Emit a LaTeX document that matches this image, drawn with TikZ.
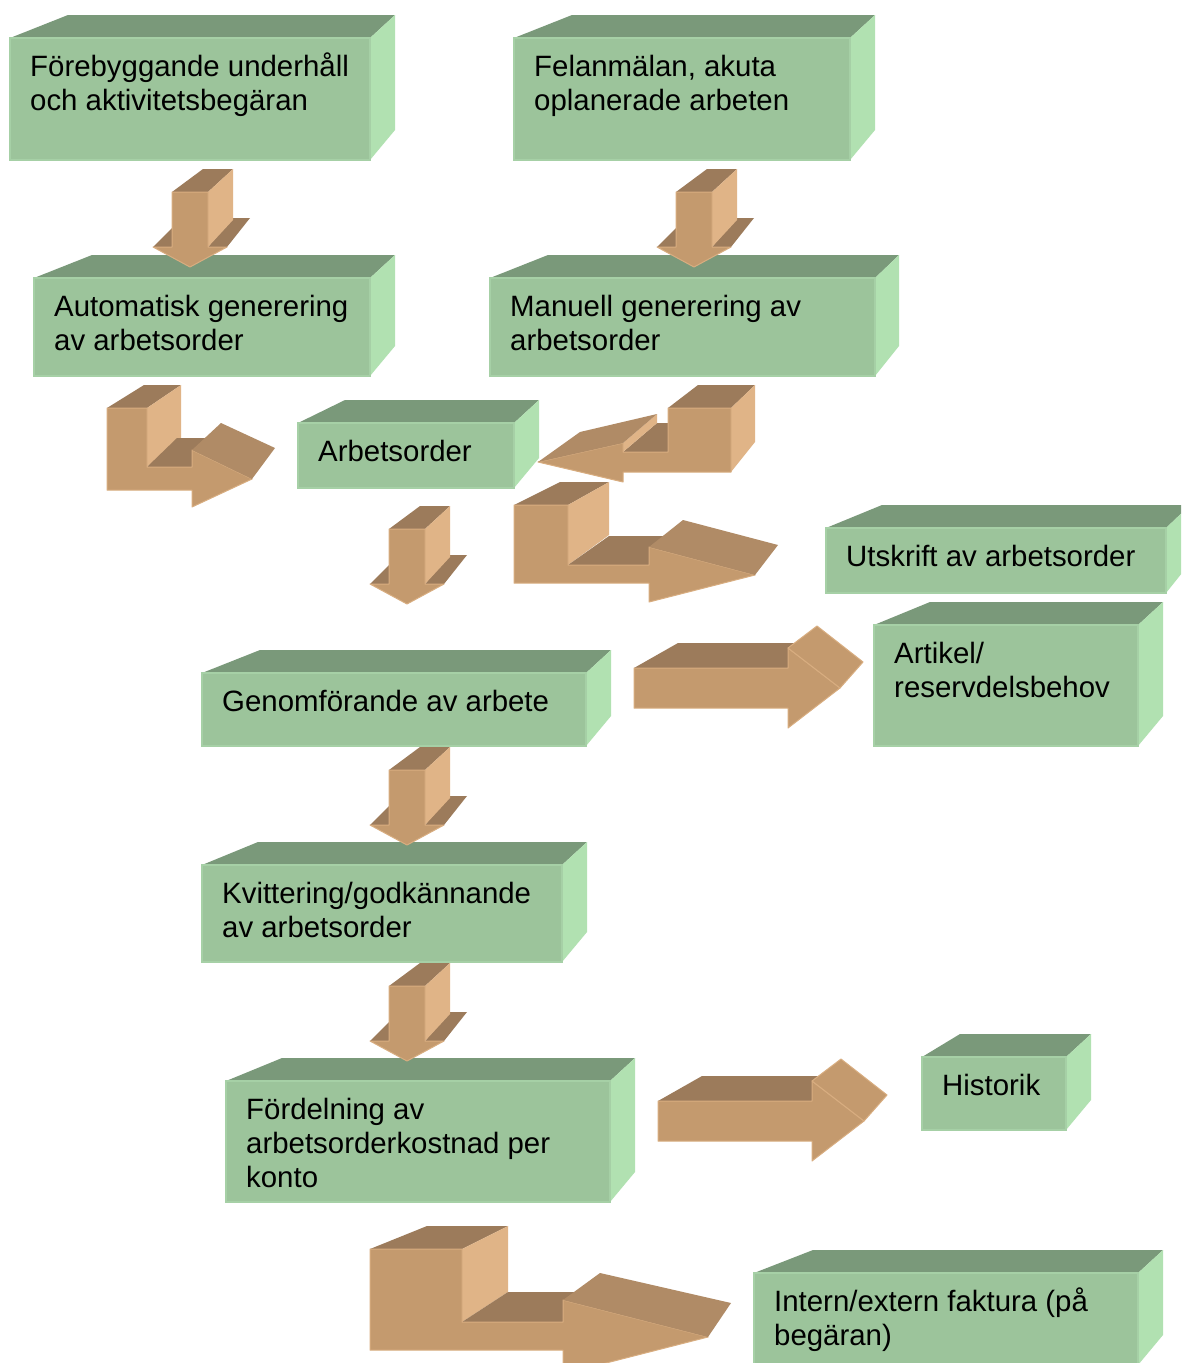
\documentclass[tikz,border=0pt]{standalone}
\usepackage{fontspec}
\setmainfont{Liberation Sans}
\definecolor{gfront}{HTML}{9CC49B}
\definecolor{gedge}{HTML}{A6D0A6}
\definecolor{gtop}{HTML}{7A997A}
\definecolor{gside}{HTML}{B1E1B1}
\definecolor{afront}{HTML}{C49A6E}
\definecolor{aedge}{HTML}{D8AD80}
\definecolor{atop}{HTML}{9C7B5B}
\definecolor{aside}{HTML}{E0B487}
\definecolor{ahead}{HTML}{B08B66}
\tikzset{
  boxtopface/.style={fill=gtop},
  boxsideface/.style={fill=gside},
  boxfrontface/.style={fill=gfront, draw=gedge, line width=1.2pt},
  boxtext/.style={font=\fontsize{29.4}{34}\selectfont, inner sep=0pt, align=left, anchor=north west, text=black},
  arrfront/.style={fill=afront, draw=aedge, line width=1pt, line join=round},
  arrtop/.style={fill=atop},
  arrside/.style={fill=aside},
  arrhead/.style={fill=ahead},
  arrheadlight/.style={fill=afront, draw=aedge, line width=1pt, line join=round},
}
% #1 name, #2 x1, #3 y1, #4 x2, #5 y2, #6 back-left x, #7 back-right x, #8 text
\newcommand\mybox[8]{%
  \fill[boxtopface] (#2,#3) -- (#6,#3-23) -- (#7,#3-23) -- (#4,#3) -- cycle;
  \fill[boxsideface] (#4,#3) -- (#7,#3-23) -- (#7,#5-30) -- (#4,#5) -- cycle;
  \draw[boxfrontface] (#2,#3) rectangle (#4,#5);
  \node[boxtext] (#1) at (#2+20,#3+14.2) {\strut #8};
}
\newcommand\mydownarrow[1]{%
  \begin{scope}[shift={#1}]
    \fill[arrtop] (153,247) -- (172,247) -- (197,222) -- (178,222) -- cycle;
    \fill[arrtop] (208,247) -- (227,247) -- (250,218) -- (233,218) -- cycle;
    \fill[arrtop] (172,192) -- (208,192) -- (233,169) -- (203,169) -- cycle;
    \fill[arrside] (208,192) -- (233,169) -- (233,220) -- (208,247) -- cycle;
    \draw[arrfront] (172,192) -- (208,192) -- (208,247) -- (227,247) -- (190,267) -- (153,247) -- (172,247) -- cycle;
  \end{scope}
}
\newcommand\myrightarrow[1]{%
  \begin{scope}[shift={#1}]
    \fill[arrtop] (634,668) -- (678,643) -- (800,643) -- (788,668) -- cycle;
    \draw[arrfront] (634,668) -- (788,668) -- (788,648) -- (840,688) -- (788,728) -- (788,708) -- (634,708) -- cycle;
    \draw[arrheadlight] (788,648) -- (817,626) -- (863,662) -- (840,688) -- cycle;
  \end{scope}
}
\begin{document}
\begin{tikzpicture}[x=1pt,y=-1pt]
\useasboundingbox (0,0) rectangle (1181,1363);
\clip (0,0) rectangle (1181,1363);
\fill[white] (0,0) rectangle (1181,1363);

% boxes
\mybox{b1}{10}{38}{370}{160}{68}{395}{Förebyggande underhåll\\och aktivitetsbegäran}
\mybox{b2}{514}{38}{850}{160}{572}{875}{Felanmälan, akuta\\oplanerade arbeten}
\mybox{b3}{34}{278}{370}{376}{92}{395}{Automatisk generering\\av arbetsorder}
\mybox{b4}{490}{278}{875}{376}{548}{899}{Manuell generering av\\arbetsorder}
\mybox{b5}{298}{423}{514}{488}{345}{539}{Arbetsorder}
\mybox{b6}{826}{528}{1166}{593}{882}{1190}{Utskrift av arbetsorder}
\mybox{b7}{874}{625}{1138}{746}{930}{1163}{Artikel/\\reservdelsbehov}
\mybox{b8}{202}{673}{586}{746}{260}{611}{Genomförande av arbete}
\mybox{b9}{202}{865}{562}{962}{258}{587}{Kvittering/godkännande\\av arbetsorder}
\mybox{b10}{226}{1081}{610}{1202}{282}{635}{Fördelning av\\arbetsorderkostnad per\\konto}
\mybox{b11}{922}{1057}{1066}{1130}{960}{1091}{Historik}
\mybox{b12}{754}{1273}{1138}{1365}{813}{1163}{Intern/extern faktura (på\\begäran)}

% straight down arrows
\mydownarrow{(0,0)}
\mydownarrow{(504,0)}
\mydownarrow{(217,337)}
\mydownarrow{(217,578)}
\mydownarrow{(217,794)}

% straight right arrows
\myrightarrow{(0,0)}
\myrightarrow{(24,433)}

% L arrow: Automatisk -> Arbetsorder
\fill[arrtop] (107,408) -- (147,408) -- (181,385) -- (144,385) -- cycle;
\fill[arrside] (147,408) -- (181,385) -- (181,438) -- (147,467) -- cycle;
\fill[arrtop] (147,467) -- (198,467) -- (215,438) -- (177,438) -- cycle;
\draw[arrfront] (107,408) -- (147,408) -- (147,467) -- (192,467) -- (192,450) -- (252,479) -- (192,507) -- (192,490) -- (107,490) -- cycle;
\fill[arrhead] (192,450) -- (221,423) -- (275,448) -- (252,479) -- cycle;

% L arrow: Manuell -> Arbetsorder (pointing left)
\fill[arrtop] (668,408) -- (731,408) -- (755,385) -- (698,385) -- cycle;
\fill[arrside] (731,408) -- (755,385) -- (755,442) -- (731,472) -- cycle;
\fill[arrtop] (623,452) -- (668,452) -- (690,423) -- (657,423) -- cycle;
\fill[arrside] (623,443) -- (657,414) -- (657,423) -- (623,452) -- cycle;
\draw[arrfront] (668,408) -- (731,408) -- (731,472) -- (623,472) -- (623,482) -- (538,462) -- (623,443) -- (623,452) -- (668,452) -- cycle;
\fill[arrhead] (538,462) -- (623,443) -- (657,414) -- (580,432) -- cycle;

% L arrow: -> Utskrift
\fill[arrtop] (514,505) -- (568,505) -- (609,482) -- (560,482) -- cycle;
\fill[arrside] (568,505) -- (609,482) -- (609,535) -- (568,565) -- cycle;
\fill[arrtop] (568,565) -- (655,565) -- (670,536) -- (609,536) -- cycle;
\draw[arrfront] (514,505) -- (568,505) -- (568,565) -- (649,565) -- (649,547) -- (755,575) -- (649,602) -- (649,583) -- (514,583) -- cycle;
\fill[arrhead] (649,547) -- (683,520) -- (778,545) -- (755,575) -- cycle;

% L arrow: -> Intern/extern faktura
\fill[arrtop] (370,1249) -- (462,1249) -- (508,1226) -- (427,1226) -- cycle;
\fill[arrside] (462,1249) -- (508,1226) -- (508,1292) -- (462,1322) -- cycle;
\fill[arrtop] (462,1322) -- (570,1322) -- (585,1292) -- (508,1292) -- cycle;
\draw[arrfront] (370,1249) -- (462,1249) -- (462,1322) -- (563,1322) -- (563,1300) -- (708,1337) -- (563,1374) -- (563,1350) -- (370,1350) -- cycle;
\fill[arrhead] (563,1300) -- (600,1273) -- (731,1303) -- (708,1337) -- cycle;
\end{tikzpicture}
\end{document}
